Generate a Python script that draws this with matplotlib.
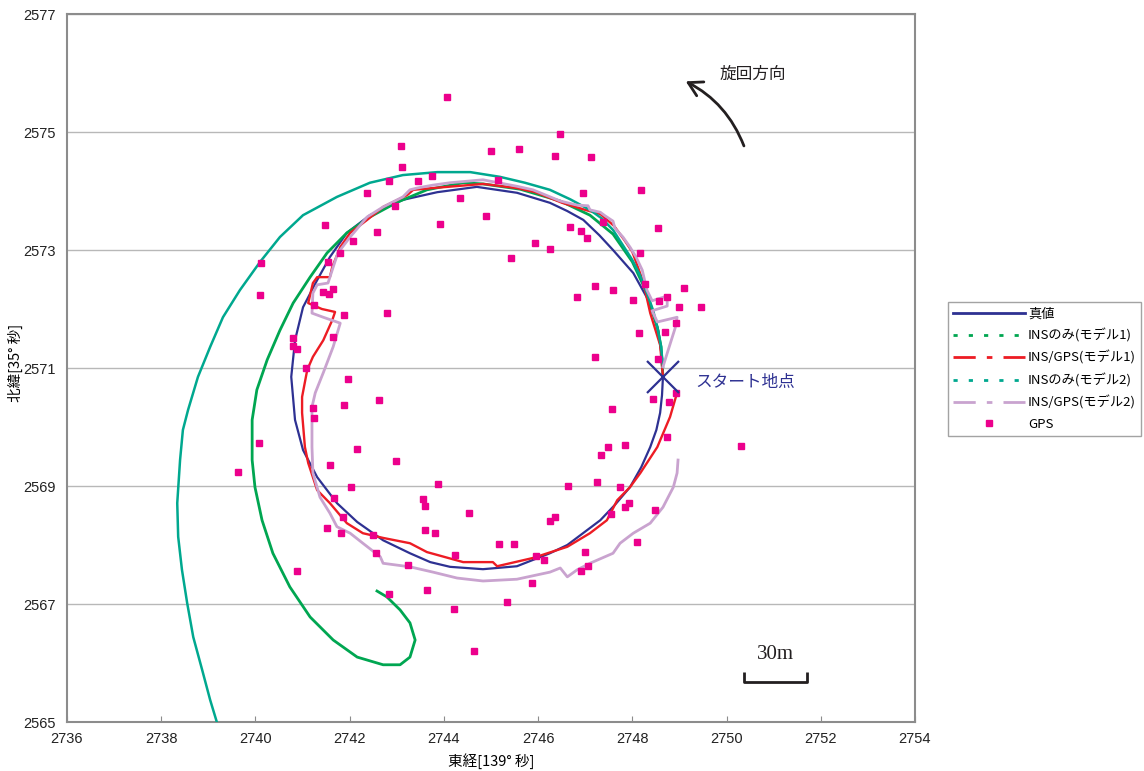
import matplotlib
matplotlib.use("Agg")
import matplotlib.pyplot as plt
from matplotlib.lines import Line2D
from matplotlib.patches import FancyArrowPatch

plt.rcParams['font.family'] = ['Noto Sans CJK JP', 'DejaVu Sans']

# ---- trajectories (longitude / latitude seconds) ----
true_x = [2748.65, 2748.63, 2748.55, 2748.34, 2748.02, 2747.59, 2747.30, 2746.96,
          2746.62, 2746.25, 2745.55, 2744.70, 2743.86, 2743.13, 2742.43, 2741.94,
          2741.58, 2741.31, 2741.01, 2740.84, 2740.76, 2740.84, 2741.01, 2741.31,
          2741.73, 2742.16, 2742.71, 2743.28, 2743.71, 2744.13, 2744.83, 2745.55,
          2746.25, 2746.62, 2747.32, 2747.63, 2747.95, 2748.19, 2748.38, 2748.51,
          2748.59, 2748.63, 2748.65]
true_y = [2570.85, 2571.17, 2571.64, 2572.15, 2572.61, 2573.00, 2573.25, 2573.51,
          2573.66, 2573.80, 2573.97, 2574.07, 2573.98, 2573.85, 2573.59, 2573.29,
          2572.88, 2572.49, 2572.03, 2571.47, 2570.85, 2570.12, 2569.61, 2569.15,
          2568.71, 2568.39, 2568.08, 2567.86, 2567.71, 2567.63, 2567.59, 2567.64,
          2567.86, 2568.00, 2568.42, 2568.68, 2568.98, 2569.32, 2569.66, 2569.95,
          2570.24, 2570.54, 2570.85]

ins1_x = [2748.65, 2748.61, 2748.53, 2748.31, 2748.00, 2747.59, 2747.10, 2746.47,
          2745.62, 2744.83, 2744.41, 2743.64, 2743.01, 2742.43, 2741.94, 2741.52,
          2741.16, 2740.80, 2740.52, 2740.25, 2740.03, 2739.93, 2739.93, 2739.99,
          2740.14, 2740.37, 2740.73, 2741.16, 2741.65, 2742.16, 2742.71, 2743.07,
          2743.28, 2743.39, 2743.28, 2743.07, 2742.79, 2742.58]
ins1_y = [2570.85, 2571.36, 2571.69, 2572.27, 2572.80, 2573.27, 2573.59, 2573.83,
          2574.03, 2574.12, 2574.14, 2574.02, 2573.81, 2573.56, 2573.29, 2572.95,
          2572.54, 2572.10, 2571.64, 2571.14, 2570.63, 2570.12, 2569.44, 2568.98,
          2568.42, 2567.86, 2567.29, 2566.78, 2566.39, 2566.10, 2565.97, 2565.97,
          2566.10, 2566.39, 2566.68, 2566.90, 2567.12, 2567.22]

gps1_x = [2748.65, 2748.59, 2748.38, 2748.23, 2748.00, 2747.83, 2747.61, 2747.32,
          2747.00, 2746.51, 2745.94, 2745.55, 2744.83, 2743.77, 2743.35, 2743.22,
          2742.71, 2742.37, 2742.01, 2741.80, 2741.63, 2741.58, 2741.31, 2741.22,
          2741.12, 2741.41, 2741.69, 2741.63, 2741.44, 2741.22, 2741.10, 2740.99,
          2740.99, 2741.05, 2741.12, 2741.31, 2741.58, 2741.94, 2742.28, 2742.71,
          2743.28, 2743.64, 2744.41, 2745.04, 2745.13, 2745.89, 2746.62, 2747.10,
          2747.46, 2747.68, 2747.95, 2748.17, 2748.53, 2748.80, 2748.95]
gps1_y = [2570.85, 2571.39, 2571.93, 2572.46, 2572.97, 2573.17, 2573.41, 2573.61,
          2573.68, 2573.80, 2573.98, 2574.05, 2574.12, 2574.05, 2574.02, 2573.93,
          2573.73, 2573.51, 2573.29, 2573.05, 2572.71, 2572.54, 2572.54, 2572.44,
          2572.10, 2572.00, 2571.95, 2571.81, 2571.47, 2571.19, 2570.97, 2570.51,
          2570.24, 2569.66, 2569.39, 2568.93, 2568.71, 2568.37, 2568.20, 2568.12,
          2568.03, 2567.88, 2567.71, 2567.71, 2567.64, 2567.78, 2567.97, 2568.20,
          2568.42, 2568.76, 2568.98, 2569.22, 2569.66, 2570.17, 2570.58]

ins2_x = [2748.65, 2748.61, 2748.53, 2748.44, 2748.31, 2748.17, 2748.00, 2747.80,
          2747.59, 2747.36, 2747.10, 2746.68, 2746.25, 2745.72, 2745.19, 2744.56,
          2743.86, 2743.13, 2742.43, 2741.73, 2741.01, 2740.52, 2740.10, 2739.67,
          2739.31, 2739.04, 2738.78, 2738.57, 2738.46, 2738.40, 2738.34, 2738.36,
          2738.44, 2738.55, 2738.68, 2738.87, 2739.04, 2739.18, 2739.27]
ins2_y = [2571.02, 2571.36, 2571.69, 2571.98, 2572.27, 2572.56, 2572.83, 2573.08,
          2573.34, 2573.53, 2573.68, 2573.86, 2574.02, 2574.14, 2574.24, 2574.32,
          2574.32, 2574.27, 2574.14, 2573.90, 2573.59, 2573.22, 2572.80, 2572.32,
          2571.86, 2571.36, 2570.85, 2570.29, 2569.95, 2569.44, 2568.71, 2568.14,
          2567.58, 2567.02, 2566.44, 2565.88, 2565.37, 2565.00, 2564.78]

gps2_x = [2748.65, 2748.74, 2748.91, 2748.95, 2748.53, 2748.42, 2748.74, 2748.74,
          2748.42, 2748.31, 2748.21, 2748.08, 2747.95, 2747.80, 2747.63, 2747.59,
          2747.42, 2747.32, 2747.10, 2747.06, 2746.83, 2746.47, 2745.89, 2745.55,
          2744.83, 2744.13, 2743.77, 2743.43, 2743.28, 2743.13, 2742.71, 2742.37,
          2742.01, 2741.75, 2741.65, 2741.54, 2741.31, 2741.22, 2741.20, 2741.44,
          2741.80, 2741.65, 2741.44, 2741.27, 2741.20, 2741.20, 2741.22, 2741.37,
          2741.58, 2741.73, 2742.01, 2742.28, 2742.65, 2742.71, 2743.28, 2743.77,
          2744.28, 2744.83, 2745.55, 2746.25, 2746.47, 2746.62, 2746.83, 2747.10,
          2747.59, 2747.74, 2748.02, 2748.38, 2748.65, 2748.87, 2748.95, 2748.97]
gps2_y = [2571.02, 2571.25, 2571.68, 2571.86, 2571.78, 2571.97, 2572.05, 2572.22,
          2572.14, 2572.32, 2572.66, 2572.88, 2573.05, 2573.22, 2573.37, 2573.49,
          2573.58, 2573.64, 2573.68, 2573.75, 2573.76, 2573.83, 2574.02, 2574.08,
          2574.19, 2574.14, 2574.10, 2574.05, 2574.02, 2573.90, 2573.73, 2573.56,
          2573.22, 2572.95, 2572.71, 2572.44, 2572.41, 2572.27, 2571.93, 2571.86,
          2571.76, 2571.36, 2570.92, 2570.58, 2570.34, 2569.66, 2569.22, 2568.81,
          2568.54, 2568.31, 2568.20, 2568.03, 2567.80, 2567.69, 2567.63, 2567.54,
          2567.44, 2567.39, 2567.42, 2567.54, 2567.61, 2567.46, 2567.58, 2567.69,
          2567.86, 2568.03, 2568.20, 2568.37, 2568.64, 2568.98, 2569.22, 2569.44]

gps_x = [2744.07, 2743.09, 2743.11, 2745.00, 2745.60, 2742.84, 2743.45, 2743.75,
         2745.15, 2742.37, 2744.34, 2742.96, 2744.90, 2741.48, 2743.92, 2742.58,
         2742.07, 2745.94, 2746.25, 2745.43, 2741.80, 2740.12, 2741.54, 2740.10,
         2741.44, 2741.65, 2741.56, 2741.24, 2741.88, 2742.79, 2741.65, 2740.80,
         2740.80, 2740.88, 2741.07, 2741.97, 2742.62, 2746.47, 2746.36, 2747.13,
         2748.19, 2746.96, 2747.38, 2748.55, 2746.68, 2746.91, 2747.04, 2748.17,
         2748.27, 2747.21, 2747.59, 2746.83, 2748.02, 2748.57, 2748.74, 2749.10,
         2748.99, 2749.46, 2748.93, 2748.70, 2748.14, 2747.21, 2748.55, 2748.44,
         2748.93, 2748.78, 2748.74, 2747.85, 2750.31, 2747.57, 2747.34, 2747.49,
         2747.25, 2746.64, 2747.74, 2744.54, 2747.85, 2747.93, 2747.55, 2746.25,
         2746.36, 2748.48, 2745.17, 2745.49, 2747.00, 2748.10, 2744.24, 2745.96,
         2746.13, 2747.06, 2746.91, 2745.87, 2745.34, 2744.22, 2744.64, 2741.22,
         2741.88, 2741.24, 2740.08, 2742.16, 2742.99, 2739.63, 2741.58, 2742.03,
         2743.88, 2741.67, 2743.56, 2743.60, 2741.86, 2741.52, 2741.82, 2743.60,
         2743.81, 2742.50, 2742.56, 2743.24, 2740.88, 2742.84, 2743.64]
gps_y = [2575.59, 2574.76, 2574.41, 2574.68, 2574.71, 2574.17, 2574.17, 2574.25,
         2574.19, 2573.97, 2573.88, 2573.75, 2573.58, 2573.42, 2573.44, 2573.31,
         2573.15, 2573.12, 2573.02, 2572.86, 2572.95, 2572.78, 2572.80, 2572.24,
         2572.29, 2572.34, 2572.25, 2572.07, 2571.90, 2571.93, 2571.53, 2571.51,
         2571.37, 2571.32, 2571.00, 2570.81, 2570.46, 2574.97, 2574.59, 2574.58,
         2574.02, 2573.97, 2573.47, 2573.37, 2573.39, 2573.32, 2573.20, 2572.95,
         2572.42, 2572.39, 2572.32, 2572.20, 2572.15, 2572.14, 2572.20, 2572.36,
         2572.03, 2572.03, 2571.76, 2571.61, 2571.59, 2571.19, 2571.15, 2570.47,
         2570.58, 2570.42, 2569.83, 2569.69, 2569.68, 2570.31, 2569.53, 2569.66,
         2569.07, 2569.00, 2568.98, 2568.54, 2568.64, 2568.71, 2568.53, 2568.41,
         2568.47, 2568.59, 2568.02, 2568.02, 2567.88, 2568.05, 2567.83, 2567.81,
         2567.75, 2567.64, 2567.56, 2567.36, 2567.03, 2566.92, 2566.20, 2570.32,
         2570.37, 2570.15, 2569.73, 2569.63, 2569.42, 2569.24, 2569.36, 2568.98,
         2569.03, 2568.80, 2568.78, 2568.66, 2568.47, 2568.29, 2568.20, 2568.25,
         2568.20, 2568.17, 2567.86, 2567.66, 2567.56, 2567.17, 2567.24]

start_x, start_y = 2748.65, 2570.85

labels = ['真値', 'INSのみ(モデル1)', 'INS/GPS(モデル1)', 'INSのみ(モデル2)',
          'INS/GPS(モデル2)', 'GPS']

x_ticks = list(range(2736, 2755, 2))
y_ticks = list(range(2565, 2578, 2))

NAVY = '#2E3192'
GREEN = '#00A651'
RED = '#ED1C24'
TEAL = '#00A88F'
LAV = '#C9A3CF'
MAG = '#EC008C'
INK = '#231F20'

fig = plt.figure(figsize=(11.44, 7.71), dpi=100)
ax = fig.add_axes([67 / 1144, 1 - 722 / 771, (915 - 67) / 1144, (722 - 14) / 771])
ax.set_xlim(2736, 2754)
ax.set_ylim(2565, 2577)
ax.set_xticks(x_ticks)
ax.set_yticks(y_ticks)
ax.yaxis.grid(True, color='#B8B8B8', lw=1.0)
ax.set_axisbelow(True)
for s in ax.spines.values():
    s.set_color('#8C8C8C')
    s.set_linewidth(1.5)

tick_family = ['Liberation Sans Narrow', 'Liberation Sans', 'DejaVu Sans']
ax.tick_params(axis='x', direction='in', length=4, color='#8C8C8C', pad=7)
ax.tick_params(axis='y', direction='in', length=0, pad=8)
for lab in ax.get_xticklabels() + ax.get_yticklabels():
    lab.set_fontfamily(tick_family)
    lab.set_fontsize(10.5)
    lab.set_color('#222222')

ax.plot(true_x, true_y, color=NAVY, lw=1.6, zorder=3)
ax.plot(ins1_x, ins1_y, color=GREEN, lw=2.0, zorder=4)
ax.plot(gps1_x, gps1_y, color=RED, lw=1.7, zorder=5)
ax.plot(ins2_x, ins2_y, color=TEAL, lw=1.8, zorder=6)
ax.plot(gps2_x, gps2_y, color=LAV, lw=2.0, zorder=7)
ax.plot(gps_x, gps_y, ls='none', marker='s', ms=5, color=MAG, mec=MAG, zorder=8)

# start point marker and label
ax.plot([start_x], [start_y], marker='x', ms=23, mew=1.6, color=NAVY, zorder=9)
ax.text(2749.33, 2570.75, 'スタート地点', color=NAVY, fontsize=12, va='center', ha='left')

# turning direction arrow
ax.text(2750.56, 2575.97, '旋回方向', color=INK, fontsize=12, ha='center', va='center')
arr = FancyArrowPatch((2750.39, 2574.72), (2749.08, 2575.88),
                      connectionstyle='arc3,rad=0.2',
                      arrowstyle='->,head_length=0.7,head_width=0.4',
                      mutation_scale=14, lw=2.0, color=INK, zorder=9)
ax.add_patch(arr)

# 30 m scale bar
ax.plot([2750.38, 2750.38, 2751.70, 2751.70], [2565.84, 2565.67, 2565.67, 2565.84],
        color=INK, lw=2.0, solid_capstyle='butt', zorder=9)
ax.text(2751.03, 2566.14, '30m', family=['Liberation Serif', 'DejaVu Serif'],
        fontsize=15, ha='center', va='center', color=INK)

fig.text(491 / 1144, 1 - 761 / 771, '東経[139° 秒]', fontsize=10.5, ha='center', va='center')
fig.text(15 / 1144, 1 - 363 / 771, '北緯[35° 秒]', fontsize=10.5, ha='center', va='center',
         rotation=90)

handles = [
    Line2D([], [], color=NAVY, lw=2.0),
    Line2D([], [], color=GREEN, lw=2.0, ls=(0, (1.5, 4))),
    Line2D([], [], color=RED, lw=2.0, ls=(0, (8, 4, 2, 4))),
    Line2D([], [], color=TEAL, lw=2.0, ls=(0, (1.5, 4))),
    Line2D([], [], color=LAV, lw=2.0, ls=(0, (8, 4, 2, 4))),
    Line2D([], [], ls='none', marker='s', ms=5, color=MAG, mec=MAG),
]
leg = fig.legend(handles, labels, loc='upper left', bbox_to_anchor=(948 / 1144, 1 - 302 / 771),
                 prop={'size': 9.5}, frameon=True, fancybox=False, edgecolor='#8C8C8C',
                 handlelength=5.4, handletextpad=0.25, labelspacing=0.62, borderpad=0.4,
                 borderaxespad=0)
leg.get_frame().set_linewidth(1.0)

fig.savefig('out.png', dpi=100, facecolor='white')
